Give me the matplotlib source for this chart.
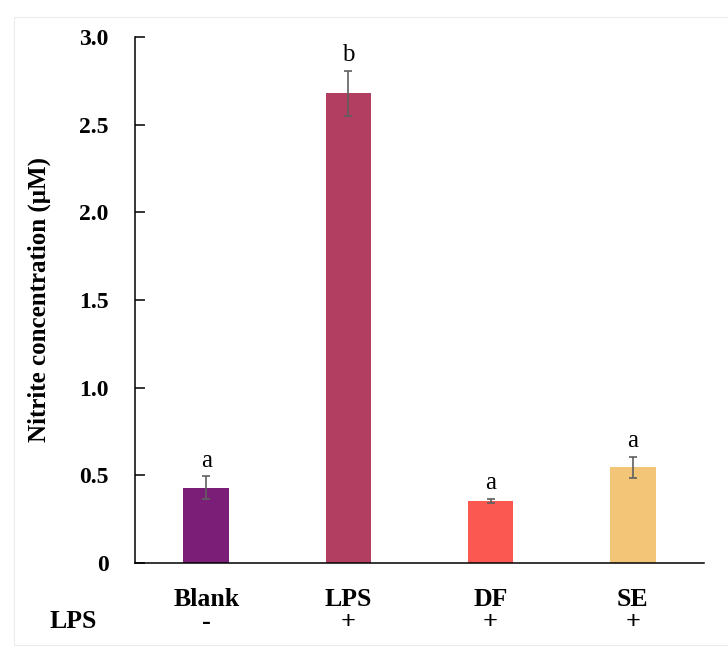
import matplotlib
matplotlib.use("Agg")
import matplotlib.pyplot as plt
from matplotlib.patches import Rectangle

groups = ["Blank", "LPS", "DF", "SE"]
lps_flags = ["-", "+", "+", "+"]
nitrite = [0.43, 2.68, 0.355, 0.545]
errors = [0.065, 0.128, 0.012, 0.062]
letters = ["a", "b", "a", "a"]
colors = ["#7A1E78", "#B23F61", "#FA5850", "#F2C577"]

plt.rcParams["font.family"] = ["Liberation Serif", "DejaVu Serif"]

fig = plt.figure(figsize=(7.28, 6.57), dpi=100)
ax = fig.add_axes([135 / 728, 1 - 563 / 657, (704 - 135) / 728, (563 - 37) / 657])

# faint frame around the figure
fig.patches.append(Rectangle((14 / 728, 1 - 645 / 657), 1.0, (645 - 17) / 657,
                             transform=fig.transFigure, fill=False,
                             edgecolor="#ececec", linewidth=0.8))

x = range(len(groups))
ax.bar(x, nitrite, width=0.32, color=colors, zorder=2)
ax.errorbar(x, nitrite, yerr=errors, fmt="none", ecolor="#5f5f5f",
            elinewidth=1.2, capsize=3, capthick=1.2, zorder=3)

for xi, v, e, lab in zip(x, nitrite, errors, letters):
    ax.annotate(lab, (xi, v + e), xytext=(0, 3), textcoords="offset points",
                ha="center", va="bottom", fontsize=18)

ax.set_xlim(-0.5, 3.5)
ax.set_ylim(0, 3.0)
ax.set_yticks([0, 0.5, 1.0, 1.5, 2.0, 2.5, 3.0])
ax.set_yticklabels(["0", "0.5", "1.0", "1.5", "2.0", "2.5", "3.0"],
                   fontsize=17, fontweight="bold")
ax.set_xticks(list(x))
ax.set_xticklabels(groups, fontsize=18.5, fontweight="bold")
ax.tick_params(axis="y", direction="in", length=7, width=1.1, pad=19)
ax.tick_params(axis="x", length=0, pad=18)

for s in ["top", "right"]:
    ax.spines[s].set_visible(False)
for s in ["left", "bottom"]:
    ax.spines[s].set_linewidth(1.1)

ax.set_ylabel("Nitrite concentration (μM)", fontsize=18, fontweight="bold",
              labelpad=20)

# LPS treatment row
trans = ax.get_xaxis_transform()
for xi, f in zip(x, lps_flags):
    ax.text(xi, -(622 - 563) / 526, f, transform=trans, ha="center",
            va="center", fontsize=19, fontweight="bold")
fig.text(73 / 728, 1 - 622 / 657, "LPS", ha="center", va="center",
         fontsize=18.5, fontweight="bold")

fig.savefig("out.png", dpi=100)
